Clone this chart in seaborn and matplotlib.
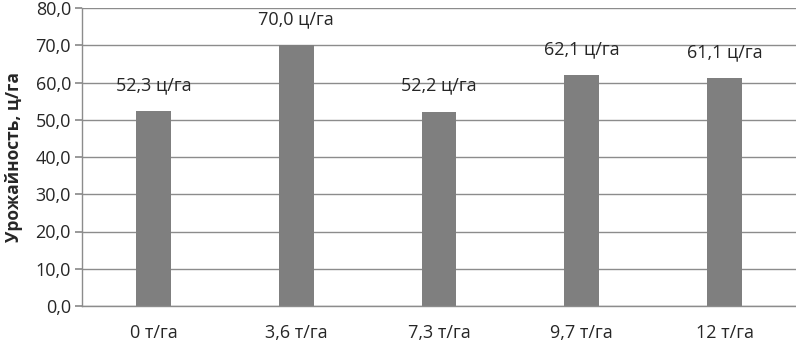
import matplotlib
matplotlib.use("Agg")
import matplotlib.pyplot as plt
import seaborn as sns
import pandas as pd

categories = ["0 т/га", "3,6 т/га", "7,3 т/га", "9,7 т/га", "12 т/га"]
values = [52.3, 70.0, 52.2, 62.1, 61.1]
y_ticks = [0, 10, 20, 30, 40, 50, 60, 70, 80]
y_label = "Урожайность, ц/га"

sns.set_theme(style="white")
plt.rcParams['font.family'] = ['Open Sans', 'DejaVu Sans']

df = pd.DataFrame({"cat": categories, "val": values})

fig = plt.figure(figsize=(7.96, 3.43), dpi=100)
ax = fig.add_axes([82/796, 1-306/343, 1-82/796, (306-8)/343])

sns.barplot(data=df, x="cat", y="val", color="#7f7f7f", saturation=1,
            width=0.245, ax=ax, edgecolor="none")

ax.set_ylim(0, 80)
ax.set_xlim(-0.5, 4.5)
ax.set_yticks(y_ticks)
ax.set_yticklabels([f"{v:.1f}".replace(".", ",") for v in y_ticks])
ax.yaxis.grid(True, color="#8c8c8c", linewidth=1)
ax.set_axisbelow(True)
for s in ["top", "right"]:
    ax.spines[s].set_visible(False)
ax.spines["bottom"].set_color("#8c8c8c")
ax.spines["bottom"].set_linewidth(1)
ax.spines["left"].set_color("#8c8c8c")
ax.spines["left"].set_linewidth(1)
ax.tick_params(axis="y", length=5, color="#8c8c8c", left=True, labelsize=13, pad=3)
ax.tick_params(axis="x", length=0, labelsize=13, pad=13)
ax.set_xlabel("")
ax.set_ylabel(y_label, fontsize=12.5, fontweight="bold")
ax.yaxis.set_label_coords(-59/714, 0.5)

for i, v in enumerate(values):
    ax.annotate(f"{v:.1f}".replace(".", ",") + " ц/га", (i, v), xytext=(0, 15),
                textcoords="offset points", ha="center", va="baseline", fontsize=13)

fig.savefig("out.png", dpi=100)
